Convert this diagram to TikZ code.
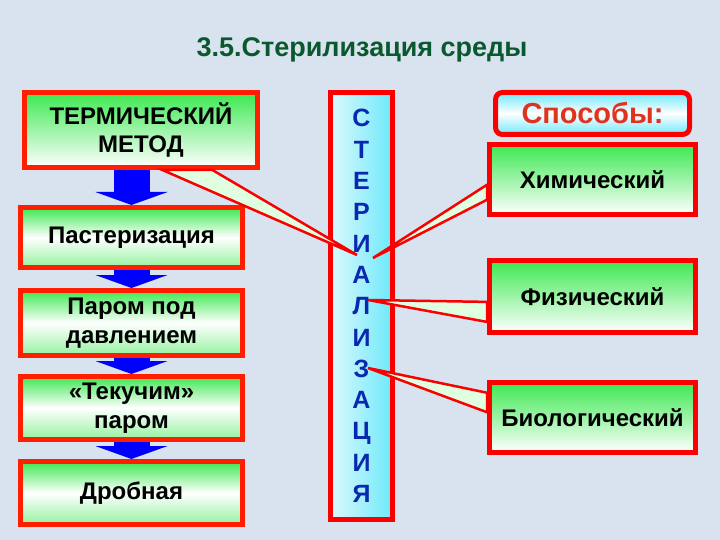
\documentclass[tikz,border=0pt]{standalone}
\usepackage{fontspec}
\setmainfont{Liberation Sans}
\usepackage{xcolor}
\usetikzlibrary{arrows.meta}
\usetikzlibrary{calc}
\definecolor{bgblue}{RGB}{217,227,239}
\definecolor{boxred}{RGB}{255,30,0}
\definecolor{wayred}{RGB}{250,0,0}
\definecolor{boxgreen}{RGB}{60,232,80}
\definecolor{titlegreen}{RGB}{10,88,45}
\definecolor{letterblue}{RGB}{10,40,175}
\definecolor{colcyan}{RGB}{110,232,250}
\definecolor{waytext}{RGB}{225,50,30}

\tikzset{
	method/.style={draw=boxred, line width=5pt, top color=boxgreen, bottom color=white,
		align=center, inner sep=0pt, text=black, font=\fontsize{24}{28.5}\selectfont\bfseries},
	stage/.style={method, bottom color=boxgreen!55!white, middle color=white},
	kind/.style={method, draw=wayred},
	column/.style={draw=wayred, line width=5pt, left color=colcyan!25!white, right color=colcyan,
		align=center, inner sep=0pt, text=letterblue, font=\fontsize{25}{31.3}\selectfont\bfseries},
	ways/.style={draw=wayred, line width=5pt, rounded corners=7pt, top color=colcyan,
		bottom color=colcyan, middle color=white, inner sep=0pt, text=waytext,
		font=\fontsize{29}{32}\selectfont\bfseries},
	downarrow/.style={draw=blue, line width=36pt, -{Triangle[length=13pt,width=72pt]}},
	wedge/.style={draw=wayred, line width=2.5pt, fill=green!12!white, line join=miter}
}

\begin{document}
\begin{tikzpicture}[x=1pt,y=-1pt]
	\useasboundingbox (0,0) rectangle (720,540);
	\fill[bgblue] (0,0) rectangle (720,540);
	\node[text=titlegreen, font=\fontsize{27}{32}\selectfont\bfseries] (title) at (362,50) {3.5.Стерилизация среды};
	
	\node[method, minimum width=233pt, minimum height=75pt] (term) at (141,130) {ТЕРМИЧЕСКИЙ\\МЕТОД};
	\node[stage, minimum width=222pt, minimum height=60pt] (past) at (131.5,237.5) {Пастеризация};
	\node[stage, minimum width=222pt, minimum height=65pt] (steam) at (131.5,323) {Паром под\\давлением};
	\node[stage, minimum width=222pt, minimum height=63pt] (flow) at (131.5,408) {«Текучим»\\паром};
	\node[stage, minimum width=222pt, minimum height=63pt] (frac) at (131.5,493) {Дробная};
	
	\draw[downarrow] (term.south -| past.north) -- (past.north);
	\draw[downarrow] (past) -- (steam);
	\draw[downarrow] (steam) -- (flow);
	\draw[downarrow] (flow) -- (frac);
	
	\node[column, minimum width=62pt, minimum height=427pt] (col) at (361.5,306)
	{С\\Т\\Е\\Р\\И\\А\\Л\\И\\З\\А\\Ц\\И\\Я};
	
	\node[ways, minimum width=194pt, minimum height=42pt] (ways) at (592.5,113.5) {Способы:};
	\node[kind, minimum width=206pt, minimum height=70pt] (chem) at (592.5,179.5) {Химический};
	\node[kind, minimum width=206pt, minimum height=72pt] (phys) at (592.5,296.5) {Физический};
	\node[kind, minimum width=206pt, minimum height=70pt] (bio) at (592.5,417.5) {Биологический};
	
	\coordinate (tipT) at (357,255);
	\coordinate (tipC) at (373,258);
	\coordinate (tipP) at (368,300);
	\coordinate (tipB) at (368,368);
	
	\filldraw[wedge] ($(term.south west)!0.59!(term.south east)$) -- (tipT)
	-- ($(term.south west)!0.80!(term.south east)$) -- cycle;
	\filldraw[wedge] ($(chem.north west)!0.57!(chem.south west)$) -- (tipC)
	-- ($(chem.north west)!0.77!(chem.south west)$) -- cycle;
	\filldraw[wedge] ($(phys.north west)!0.57!(phys.south west)$) -- (tipP)
	-- ($(phys.north west)!0.83!(phys.south west)$) -- cycle;
	\filldraw[wedge] ($(bio.north west)!0.17!(bio.south west)$) -- (tipB)
	-- ($(bio.north west)!0.43!(bio.south west)$) -- cycle;
\end{tikzpicture}
\end{document}
